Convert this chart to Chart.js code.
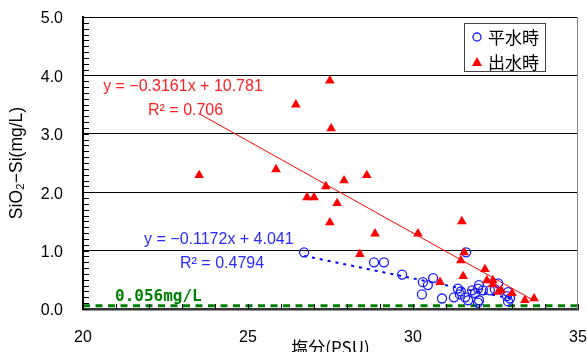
<!DOCTYPE html>
<html><head><meta charset="utf-8">
<script src="https://cdn.jsdelivr.net/npm/chart.js@4.4.1/dist/chart.umd.min.js"></script>
<style>html,body{margin:0;padding:0;background:#fff;}canvas{display:block;}</style>
</head><body>
<canvas id="c" width="587" height="352"></canvas>
<script>
// 平水時 (normal flow)
const normalSalinity = [26.70, 28.82, 29.12, 29.67, 30.30, 30.45, 30.61, 30.27, 30.88, 31.36, 31.61, 31.24, 31.42, 31.58, 31.67, 31.79, 31.97, 32.12, 31.88, 32.00, 31.97, 32.00, 32.33, 32.58, 32.88, 32.94, 32.88, 32.48, 32.85, 31.45];
const normalSilica   = [0.97, 0.80, 0.80, 0.59, 0.46, 0.41, 0.53, 0.25, 0.18, 0.35, 0.97, 0.20, 0.25, 0.20, 0.15, 0.32, 0.35, 0.32, 0.27, 0.15, 0.11, 0.41, 0.32, 0.44, 0.29, 0.18, 0.13, 0.34, 0.22, 0.30];
// 出水時 (flood flow)
const floodSalinity = [23.52, 25.85, 26.45, 27.48, 27.52, 26.79, 27.00, 27.36, 27.91, 28.60, 27.70, 27.48, 28.85, 28.39, 30.15, 31.48, 31.55, 31.45, 31.52, 30.82, 32.18, 32.24, 32.42, 32.42, 32.67, 32.58, 33.00, 33.39, 33.67];
const floodSilica   = [2.29, 2.39, 3.50, 3.91, 3.09, 1.91, 1.91, 2.10, 2.20, 2.29, 1.81, 1.48, 1.29, 0.94, 1.29, 1.50, 0.97, 0.83, 0.56, 0.46, 0.68, 0.49, 0.49, 0.42, 0.32, 0.29, 0.27, 0.15, 0.18];
// trend line end points
const floodTrendSalinity = [23.5, 33.65];
const floodTrendSilica   = [3.35, 0.15];
const normalTrendSalinity = [26.7, 32.95];
const normalTrendSilica   = [0.91, 0.18];
// detection limit line
const limitSalinity = [20, 35];
const limitSilica   = [0.056, 0.056];
// ticks
const xTickValues = [20, 25, 30, 35];
const yTickValues = [0, 1, 2, 3, 4, 5];
const xMinorStep = 1;
const yMinorStep = 0.1;
const seriesLabels = ['平水時', '出水時'];
const floodEquation = ['y = −0.3161x + 10.781', 'R² = 0.706'];
const normalEquation = ['y = −0.1172x + 4.041', 'R² = 0.4794'];
const limitLabel = '0.056mg/L';

const pts = (xs, ys) => xs.map((x, i) => ({x: x, y: ys[i]}));
const LAT = '"Liberation Sans", Arial, "Noto Sans CJK JP", sans-serif';

const overlay = {
  id: 'overlay',
  afterDatasetsDraw(chart) {
    const {ctx, chartArea: a, scales: {x, y}} = chart;
    ctx.save();
    ctx.strokeStyle = '#000'; ctx.lineWidth = 1;
    for (let i = 0; i <= 50; i++) {
      const py = Math.round(y.getPixelForValue(i * yMinorStep)) + 0.5;
      ctx.beginPath(); ctx.moveTo(a.left, py); ctx.lineTo(a.left + 6, py); ctx.stroke();
    }
    for (let v = 20; v <= 35; v += xMinorStep) {
      const px = Math.round(x.getPixelForValue(v)) + 0.5;
      ctx.beginPath(); ctx.moveTo(px, a.bottom); ctx.lineTo(px, a.bottom - 5); ctx.stroke();
    }
    ctx.strokeStyle = '#888';
    ctx.beginPath(); ctx.moveTo(a.right - 0.5, a.top); ctx.lineTo(a.right - 0.5, a.bottom); ctx.stroke();
    ctx.textBaseline = 'middle'; ctx.textAlign = 'left';
    ctx.font = '16px ' + LAT;
    ctx.fillStyle = '#ff2020';
    ctx.fillText(floodEquation[0], x.getPixelForValue(20.61), y.getPixelForValue(3.80));
    ctx.fillText(floodEquation[1], x.getPixelForValue(21.97), y.getPixelForValue(3.40));
    ctx.fillStyle = '#2a2aff';
    ctx.fillText(normalEquation[0], x.getPixelForValue(21.85), y.getPixelForValue(1.18));
    ctx.fillText(normalEquation[1], x.getPixelForValue(22.94), y.getPixelForValue(0.78));
    ctx.fillStyle = '#008000';
    ctx.font = 'bold 16px "DejaVu Sans Mono", monospace';
    ctx.fillText(limitLabel, x.getPixelForValue(20.97), y.getPixelForValue(0.20));
    ctx.restore();
  },
  afterDraw(chart) {
    const {ctx} = chart;
    ctx.save();
    const bx = 464.5, by = 23.5, bw = 81, bh = 48;
    ctx.fillStyle = '#fff'; ctx.fillRect(bx, by, bw, bh);
    ctx.strokeStyle = '#444'; ctx.lineWidth = 1; ctx.strokeRect(bx, by, bw, bh);
    ctx.strokeStyle = '#1a1aff'; ctx.lineWidth = 1.3;
    ctx.beginPath(); ctx.arc(477, 37, 4, 0, Math.PI * 2); ctx.stroke();
    ctx.fillStyle = '#ff0000';
    ctx.beginPath(); ctx.moveTo(477, 57); ctx.lineTo(482, 66); ctx.lineTo(472, 66); ctx.closePath(); ctx.fill();
    ctx.fillStyle = '#000'; ctx.font = '17px "Noto Sans CJK JP", sans-serif';
    ctx.textBaseline = 'middle'; ctx.textAlign = 'left';
    ctx.fillText(seriesLabels[0], 488, 38);
    ctx.fillText(seriesLabels[1], 488, 63);
    ctx.restore();
  }
};

new Chart(document.getElementById('c'), {
  type: 'scatter',
  data: {
    datasets: [
      {label: seriesLabels[1], data: pts(floodSalinity, floodSilica), pointStyle: 'triangle', pointRadius: 5.6,
       backgroundColor: '#ff0000', borderColor: '#ff0000', borderWidth: 0, order: 1},
      {label: seriesLabels[0], data: pts(normalSalinity, normalSilica), pointStyle: 'circle', pointRadius: 4.5,
       backgroundColor: 'rgba(0,0,0,0)', borderColor: '#1a1aff', borderWidth: 1.3, order: 2},
      {label: 'flood trend', data: pts(floodTrendSalinity, floodTrendSilica), showLine: true, pointRadius: 0,
       borderColor: '#ff0000', borderWidth: 1, order: 3},
      {label: 'normal trend', data: pts(normalTrendSalinity, normalTrendSilica), showLine: true, pointRadius: 0,
       borderColor: '#0000ff', borderWidth: 2, borderDash: [3, 5], order: 4},
      {label: 'limit', data: pts(limitSalinity, limitSilica), showLine: true, pointRadius: 0,
       borderColor: '#008000', borderWidth: 3, borderDash: [7, 5.5], order: 5}
    ]
  },
  options: {
    responsive: false, animation: false, devicePixelRatio: 1,
    layout: {padding: {top: 17, right: 9, left: 0, bottom: 0}},
    plugins: {legend: {display: false}, tooltip: {enabled: false}},
    scales: {
      x: {
        type: 'linear', min: 20, max: 35,
        afterBuildTicks: s => { s.ticks = xTickValues.map(v => ({value: v})); },
        afterFit: s => { s.height = 43; s.paddingLeft = 0; s.paddingRight = 0; },
        grid: {display: false, drawTicks: false},
        border: {display: true, color: '#333', width: 2.5},
        ticks: {color: '#000', font: {family: LAT, size: 16}, padding: 19, maxRotation: 0, callback: v => String(v)},
        title: {display: true, text: '塩分(PSU)', color: '#000', font: {family: '"Noto Sans CJK JP", sans-serif', size: 17}, padding: {top: 0, bottom: -6}}
      },
      y: {
        type: 'linear', min: 0, max: 5,
        afterBuildTicks: s => { s.ticks = yTickValues.map(v => ({value: v})); },
        afterFit: s => { s.width = 83; s.paddingTop = 0; s.paddingBottom = 0; },
        grid: {display: true, color: '#000', lineWidth: 1, drawTicks: false},
        border: {display: true, color: '#000', width: 2},
        ticks: {color: '#000', font: {family: LAT, size: 16}, padding: 20, labelOffset: 2, callback: v => Number(v).toFixed(1)},
        title: {display: true, text: 'SiO₂−Si(mg/L)', color: '#000', font: {family: LAT, size: 17.5}, padding: {top: 7, bottom: 0}}
      }
    }
  },
  plugins: [overlay]
});
</script>
</body></html>
